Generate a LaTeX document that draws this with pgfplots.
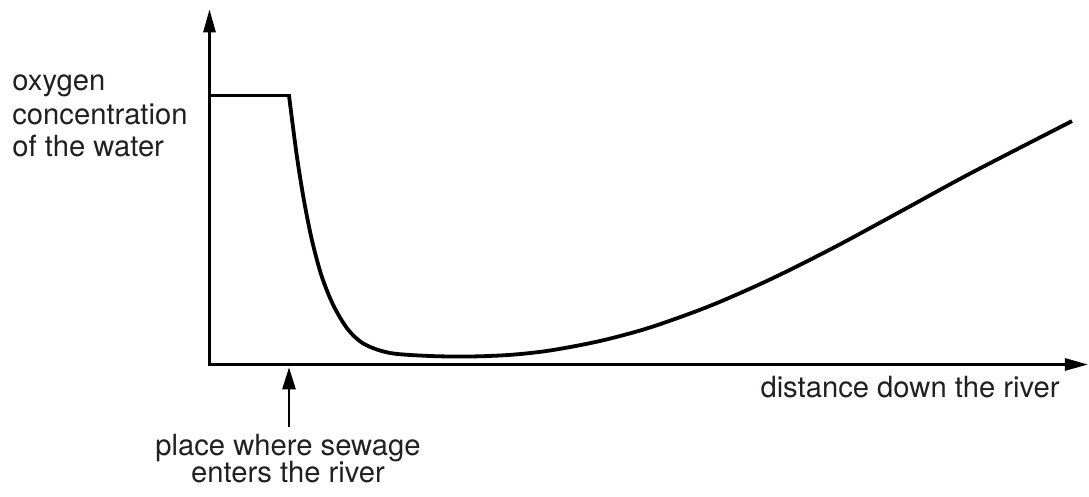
\documentclass[border=0pt]{standalone}
\usepackage{fontspec}
\setmainfont{TeX Gyre Heros}
\usepackage{pgfplots}
\pgfplotsset{compat=1.18}
\usetikzlibrary{arrows.meta}
\definecolor{txt}{RGB}{35,31,32}
\begin{document}
\begin{tikzpicture}
\useasboundingbox (-104.75pt,-66.25pt) rectangle (439.75pt,182.25pt);
\begin{axis}[
  at={(0,0)}, anchor=south west,
  x=0.5pt, y=0.5pt,
  xmin=0, xmax=878.5, ymin=0, ymax=355.2,
  axis lines=left,
  axis line style={line width=1.4pt, line cap=rect, -{Triangle[length=11.5pt,width=6pt]}},
  xtick=\empty, ytick=\empty,
  clip=false,
]
\addplot[line width=1.9pt, black, no markers, line cap=rect] coordinates {(0,269) (79.5,269)};
\addplot[line width=1.9pt, black, no markers, smooth] coordinates {
(79.5,269) (87.2,209.5) (94.4,164.5) (102.4,124.5) (112.1,88.5) (123.7,59.5)
(138.1,35.5) (154.6,20.5) (180.5,11.5) (220.5,8.5) (260.5,8) (300.5,9.6)
(340.5,14.0) (390.5,23.5) (440.5,37.0) (500.5,58.6) (560.5,85.0) (623.5,116.5)
(690.5,152.7) (760.5,190.9) (862.5,243.4)};
\begin{scope}[every node/.style={text=txt, font=\fontsize{14.6}{16.5}\selectfont, inner sep=0pt}]
\node[anchor=base west] at (axis cs:-197.5,273.8) {oxygen};
\node[anchor=base west] at (axis cs:-197.5,239.5) {concentration};
\node[anchor=base west] at (axis cs:-197.5,207.8) {of the water};
\node[anchor=base east] at (axis cs:850.5,-33.5) {distance down the river};
\node[anchor=base] at (axis cs:78.5,-91.5) {place where sewage};
\node[anchor=base] at (axis cs:78.5,-118.2) {enters the river};
\end{scope}
\draw[line width=1.3pt, -{Triangle[length=11pt,width=6.5pt]}] (axis cs:79.5,-62.8) -- (axis cs:79.5,-2.8);
\end{axis}
\end{tikzpicture}
\end{document}
